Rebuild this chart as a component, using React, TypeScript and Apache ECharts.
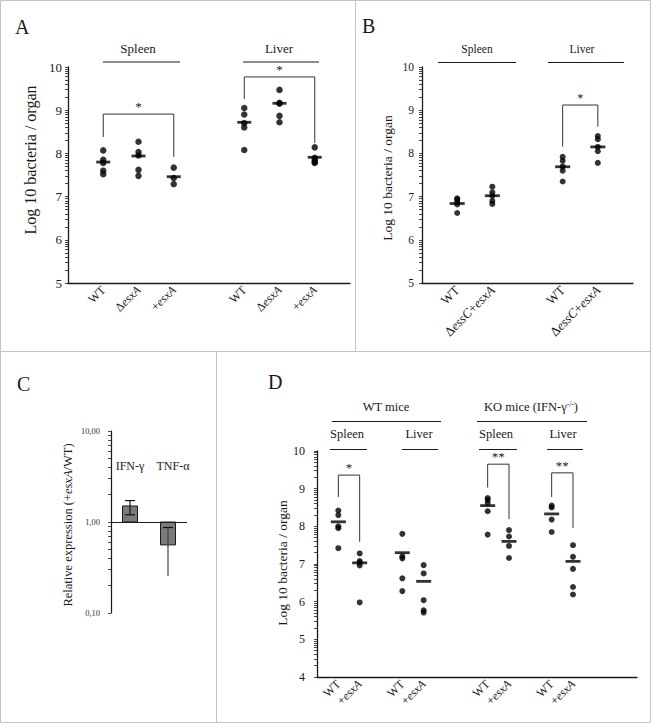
import React, { useEffect, useRef } from 'react';
import * as echarts from 'echarts';

const FONT = 'Liberation Serif, serif';
const INK = '#1a1a1a';
const BORDER = '#c4c4c4';

// ---------- Panel A ----------
const catsA = ['', 'WT', 'ΔesxA', '+esxA', '', 'WT', 'ΔesxA', '+esxA', ''];
const aSpleenWT = [8.07, 7.85, 7.78, 7.6, 7.52];
const aSpleenDel = [8.27, 8.03, 7.95, 7.62, 7.48];
const aSpleenComp = [7.67, 7.43, 7.29];
const aLiverWT = [9.05, 8.9, 8.7, 8.6, 8.08];
const aLiverDel = [9.47, 9.17, 9.15, 8.87, 8.72];
const aLiverComp = [8.14, 7.9, 7.85, 7.8, 7.78];
const aCols = [1, 2, 3, 5, 6, 7];
const aMeans = [7.8, 7.94, 7.46, 8.72, 9.16, 7.91];
const bracketsA: [number, number, number, number, number, string][] = [
  [1, 3, 8.91, 8.38, 7.92, '*'],
  [5, 7, 9.77, 9.26, 8.24, '*'],
];

// ---------- Panel B ----------
const catsB = ['', 'WT', 'ΔessC+esxA', '', 'WT', 'ΔessC+esxA', ''];
const bSpleenWT = [6.96, 6.93, 6.88, 6.82, 6.62];
const bSpleenDel = [7.23, 7.1, 7.02, 6.9, 6.83];
const bLiverWT = [7.92, 7.83, 7.7, 7.6, 7.35];
const bLiverDel = [8.4, 8.33, 8.15, 8.05, 7.78];
const bCols = [1, 2, 4, 5];
const bMeans = [6.84, 7.02, 7.69, 8.15];
const bracketsB: [number, number, number, number, number, string][] = [
  [4, 5, 9.12, 8.16, 8.62, '*'],
];

// ---------- Panel C ----------
const cytokines = ['IFN-γ', 'TNF-α'];
const relExpr = [1.5, 0.56];
const errLow = [1.2, 0.255];
const errHigh = [1.72, 0.87];
const lowerCap = [1, 0];
const cTickLabels = [0.1, 1, 10];
const cTicks = [0.1, 0.2, 0.3, 0.4, 0.5, 0.6, 0.7, 0.8, 0.9, 1, 2, 3, 4, 5, 6, 7, 8, 9, 10];

// ---------- Panel D ----------
const catsD = ['', 'WT', '+esxA', '', 'WT', '+esxA', '', '', 'WT', '+esxA', '', 'WT', '+esxA', '', '', ''];
const dWtSpleenWT = [8.42, 8.3, 8.0, 7.95, 7.42];
const dWtSpleenComp = [7.28, 7.08, 7.04, 6.96, 5.98];
const dWtLiverWT = [7.8, 7.2, 7.15, 6.62, 6.28];
const dWtLiverComp = [6.97, 6.75, 6.04, 5.77, 5.71];
const dKoSpleenWT = [8.75, 8.7, 8.62, 8.4, 7.78];
const dKoSpleenComp = [7.9, 7.73, 7.48, 7.16];
const dKoLiverWT = [8.55, 8.5, 8.18, 7.85];
const dKoLiverComp = [7.5, 7.19, 6.87, 6.39, 6.19];
const dCols = [1, 2, 4, 5, 8, 9, 11, 12];
const dMeans = [8.12, 7.03, 7.3, 6.54, 8.55, 7.6, 8.33, 7.07];
const bracketsD: [number, number, number, number, number, string][] = [
  [1, 2, 9.36, 8.78, 7.59, '*'],
  [8, 9, 9.65, 9.03, 8.19, '**'],
  [11, 12, 9.42, 8.78, 7.96, '**'],
];

function logMinorTicks(lo: number, hi: number) {
  const out: number[] = [];
  for (let n = lo; n < hi; n++) {
    for (let k = 1; k <= 9; k++) out.push(n + Math.log10(k));
  }
  out.push(hi);
  return out;
}

function rich(size: number) {
  return {
    n: { fontFamily: FONT, fontSize: size, color: INK },
    i: { fontFamily: FONT, fontSize: size, fontStyle: 'italic', color: INK },
    s: { fontFamily: FONT, fontSize: size * 0.6, color: INK, verticalAlign: 'top' },
  };
}

function fmtLabel(s: string) {
  if (!s) return '';
  return s
    .split(/(essC|esxA)/)
    .filter(Boolean)
    .map((p) => (/^(essC|esxA)$/.test(p) ? `{i|${p}}` : `{n|${p}}`))
    .join('');
}

function catX(g: number, data: string[], size: number) {
  return {
    type: 'category',
    gridIndex: g,
    data,
    boundaryGap: false,
    axisLine: { show: true, onZero: false, lineStyle: { color: INK, width: 1.3 } },
    axisTick: { show: false },
    splitLine: { show: false },
    axisLabel: {
      interval: 0,
      rotate: 45,
      margin: 5,
      fontFamily: FONT,
      formatter: (v: string) => fmtLabel(v),
      rich: rich(size),
    },
  };
}

function valY(g: number, min: number, max: number, size: number, margin: number) {
  return {
    type: 'value',
    gridIndex: g,
    min,
    max,
    interval: 1,
    axisLine: { show: true, lineStyle: { color: INK, width: 1.3 } },
    axisTick: {
      show: true,
      length: 3,
      customValues: logMinorTicks(min, max),
      lineStyle: { color: INK, width: 0.8 },
    },
    splitLine: { show: false },
    axisLabel: { fontFamily: FONT, fontSize: size, color: INK, margin },
  };
}

function dotSeries(g: number, groups: [number, number[]][], size: number) {
  const data: number[][] = [];
  groups.forEach(([c, vals]) => vals.forEach((v) => data.push([c, v])));
  return {
    type: 'scatter',
    xAxisIndex: g,
    yAxisIndex: g,
    data,
    symbolSize: size,
    itemStyle: { color: '#000' },
    silent: true,
  };
}

function meanSeries(g: number, cols: number[], means: number[], w: number) {
  return {
    type: 'scatter',
    xAxisIndex: g,
    yAxisIndex: g,
    symbol: 'rect',
    symbolSize: [w, 2.8],
    data: cols.map((c, i) => [c, means[i]]),
    itemStyle: { color: '#000' },
    silent: true,
    z: 3,
  };
}

export default function App() {
  const ref = useRef<HTMLDivElement>(null);

  useEffect(() => {
    document.body.style.margin = '0';
    if (!ref.current) return;
    const chart = echarts.init(ref.current, undefined, { renderer: 'svg' });

    const option: any = {
      animation: false,
      backgroundColor: '#ffffff',
      textStyle: { fontFamily: FONT },
      grid: [
        { left: 68, top: 67, width: 282, height: 216 },
        { left: 422, top: 67, width: 211, height: 216 },
        { left: 111, top: 431, width: 76, height: 182 },
        { left: 317, top: 451, width: 320, height: 226 },
      ],
      xAxis: [
        catX(0, catsA, 12),
        catX(1, catsB, 13),
        { type: 'category', gridIndex: 2, data: cytokines, show: false },
        catX(3, catsD, 12),
      ],
      yAxis: [
        valY(0, 5, 10, 13, 6),
        valY(1, 5, 10, 11.5, 8),
        {
          type: 'log',
          gridIndex: 2,
          logBase: 10,
          min: 0.1,
          max: 10,
          axisLine: { show: true, lineStyle: { color: INK, width: 1.2 } },
          axisTick: { show: true, length: 3, customValues: cTicks, lineStyle: { color: INK, width: 0.8 } },
          splitLine: { show: false },
          axisLabel: {
            customValues: cTickLabels,
            formatter: (v: number) => v.toFixed(2).replace('.', ','),
            fontFamily: FONT,
            fontSize: 8.5,
            color: '#333',
            margin: 11,
          },
        },
        valY(3, 4, 10, 12, 12),
      ],
      series: [
        dotSeries(0, [[1, aSpleenWT], [2, aSpleenDel], [3, aSpleenComp], [5, aLiverWT], [6, aLiverDel], [7, aLiverComp]], 6.5),
        meanSeries(0, aCols, aMeans, 14),
        dotSeries(1, [[1, bSpleenWT], [2, bSpleenDel], [4, bLiverWT], [5, bLiverDel]], 6),
        meanSeries(1, bCols, bMeans, 15),
        {
          type: 'custom',
          xAxisIndex: 2,
          yAxisIndex: 2,
          data: relExpr.map((v, i) => [i, v]),
          silent: true,
          renderItem: (params: any, api: any) => {
            const x = api.value(0);
            const v = api.value(1);
            const base = api.coord([x, 1]);
            const top = api.coord([x, v]);
            const w = 15;
            return {
              type: 'rect',
              shape: { x: base[0] - w / 2, y: Math.min(base[1], top[1]), width: w, height: Math.abs(base[1] - top[1]) },
              style: { fill: '#7b7b7b', stroke: '#1a1a1a', lineWidth: 1 },
            };
          },
          markLine: {
            silent: true,
            symbol: ['none', 'none'],
            label: { show: false },
            lineStyle: { color: INK, width: 1.2, type: 'solid' },
            data: [{ yAxis: 1 }],
          },
        },
        {
          type: 'custom',
          xAxisIndex: 2,
          yAxisIndex: 2,
          data: errLow.map((lo, i) => [i, lo, errHigh[i], lowerCap[i]]),
          silent: true,
          z: 4,
          renderItem: (params: any, api: any) => {
            const x = api.value(0);
            const lo = api.coord([x, api.value(1)]);
            const hi = api.coord([x, api.value(2)]);
            const cap = api.value(3);
            const hw = 5;
            const color = cap ? '#111' : '#444';
            const children: any[] = [
              { type: 'line', shape: { x1: lo[0], y1: lo[1], x2: hi[0], y2: hi[1] }, style: { stroke: color, lineWidth: 1.2 } },
              { type: 'line', shape: { x1: hi[0] - hw, y1: hi[1], x2: hi[0] + hw, y2: hi[1] }, style: { stroke: '#111', lineWidth: 1.2 } },
            ];
            if (cap) {
              children.push({ type: 'line', shape: { x1: lo[0] - hw, y1: lo[1], x2: lo[0] + hw, y2: lo[1] }, style: { stroke: '#111', lineWidth: 1.2 } });
            }
            return { type: 'group', children };
          },
        },
        dotSeries(3, [
          [1, dWtSpleenWT], [2, dWtSpleenComp], [4, dWtLiverWT], [5, dWtLiverComp],
          [8, dKoSpleenWT], [9, dKoSpleenComp], [11, dKoLiverWT], [12, dKoLiverComp],
        ], 6),
        meanSeries(3, dCols, dMeans, 15),
      ],
    };

    chart.setOption(option);

    const px = (g: number, x: number, y: number) =>
      chart.convertToPixel({ xAxisIndex: g, yAxisIndex: g } as any, [x, y]) as number[];

    const els: any[] = [];
    const txt = (text: string, x: number, y: number, size: number, extra: any = {}) => {
      els.push({
        type: 'text',
        x,
        y,
        rotation: extra.rotation || 0,
        silent: true,
        style: {
          text,
          font: `${size}px ${FONT}`,
          fontFamily: FONT,
          fontSize: size,
          fill: INK,
          align: extra.align || 'center',
          verticalAlign: extra.vAlign || 'middle',
          textAlign: extra.align || 'center',
          textVerticalAlign: extra.vAlign || 'middle',
          rich: extra.rich,
        },
      });
    };
    const line = (x1: number, y1: number, x2: number, y2: number, stroke = INK, w = 1) => {
      els.push({ type: 'line', silent: true, shape: { x1, y1, x2, y2 }, style: { stroke, lineWidth: w } });
    };

    // panel frames
    els.push({ type: 'rect', silent: true, shape: { x: 0.5, y: 0.5, width: 650, height: 722 }, style: { fill: 'none', stroke: BORDER, lineWidth: 1 } });
    line(355.5, 0, 355.5, 352, BORDER);
    line(0, 351.5, 651, 351.5, BORDER);
    line(216.5, 352, 216.5, 723, BORDER);

    // panel letters
    txt('A', 15, 27, 20, { align: 'left' });
    txt('B', 362, 26, 20, { align: 'left' });
    txt('C', 17, 384, 20, { align: 'left' });
    txt('D', 268, 382, 20, { align: 'left' });

    // A headers
    txt('Spleen', 138, 48, 13);
    line(103, 62, 180, 62);
    txt('Liver', 279, 48, 13);
    line(243, 62, 319, 62);
    // B headers
    txt('Spleen', 477, 49, 11.5);
    line(438, 62.5, 516, 62.5);
    txt('Liver', 582, 49, 11.5);
    line(548, 62.5, 624, 62.5);
    // D headers
    txt('WT mice', 386, 407, 12.5);
    line(332, 421.5, 441, 421.5);
    txt('{n|KO mice (IFN-γ}{s|-/-}{n|)}', 531, 407, 12.5, { rich: rich(12.5) });
    line(477, 421.5, 587, 421.5);
    txt('Spleen', 347, 434, 12.5);
    line(330, 449.5, 367, 449.5);
    txt('Liver', 419, 434, 12.5);
    line(402, 449.5, 438, 449.5);
    txt('Spleen', 496, 434, 12.5);
    line(479, 449.5, 517, 449.5);
    txt('Liver', 563, 434, 12.5);
    line(547, 449.5, 583, 449.5);

    // C labels
    txt('IFN-γ', 130, 466, 12);
    txt('TNF-α', 173, 466, 12);

    // axis titles
    txt('Log 10 bacteria / organ', 30, 160, 16, { rotation: Math.PI / 2 });
    txt('Log 10 bacteria / organ', 387, 178, 13.5, { rotation: Math.PI / 2 });
    txt('{n|Relative expression (+}{i|esxA}{n|/WT)}', 68, 525, 12.5, { rotation: Math.PI / 2, rich: rich(12.5) });
    txt('Log 10 bacteria / organ', 282, 563, 13.5, { rotation: Math.PI / 2 });

    // significance brackets
    const drawBrackets = (g: number, list: [number, number, number, number, number, string][], size: number) => {
      list.forEach(([x1, x2, top, lEnd, rEnd, label]) => {
        const a = px(g, x1, lEnd);
        const b = px(g, x1, top);
        const c = px(g, x2, top);
        const d = px(g, x2, rEnd);
        els.push({
          type: 'polyline',
          silent: true,
          shape: { points: [a, b, c, d] },
          style: { stroke: '#333', lineWidth: 1, fill: 'none' },
        });
        txt(label, (b[0] + c[0]) / 2, b[1] - 1, size, { vAlign: 'bottom' });
      });
    };
    drawBrackets(0, bracketsA, 13);
    drawBrackets(1, bracketsB, 12);
    drawBrackets(3, bracketsD, 13);

    chart.setOption({ graphic: { elements: els } });

    return () => {
      chart.dispose();
    };
  }, []);

  return <div ref={ref} style={{ width: 651, height: 723 }} />;
}
